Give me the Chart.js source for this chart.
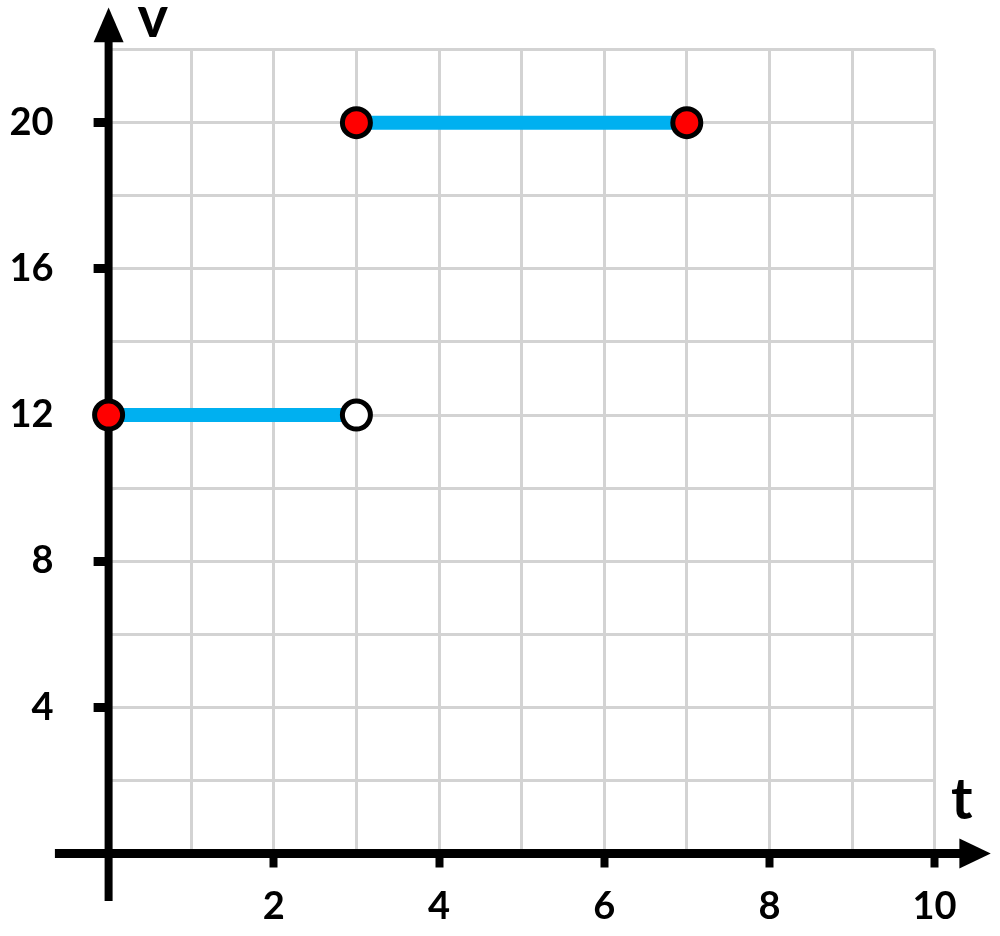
<!DOCTYPE html>
<html>
<head>
<meta charset="utf-8">
<script src="https://cdn.jsdelivr.net/npm/chart.js@4/dist/chart.umd.min.js"></script>
<style>
  html, body { margin: 0; padding: 0; background: #fff; }
  #wrap { width: 1000px; height: 936px; }
</style>
</head>
<body>
<div id="wrap"><canvas id="chart"></canvas></div>
<script>
// Piecewise speed graph: v against t
const segLowT = [0, 3]
const segLowV = [12, 12]
const segLowFill = ['#ff0000', '#ffffff']

const segHighT = [3, 7]
const segHighV = [20, 20]
const segHighFill = ['#ff0000', '#ff0000']

const xTickLabels = [2, 4, 6, 8, 10]
const yTickLabels = [4, 8, 12, 16, 20]

const FONT = 'Lato, "Open Sans", sans-serif'
const GRID = '#d3d3d3'
const LINE = '#00b0f0'

const toPoints = (xs, ys) => xs.map((x, i) => ({ x, y: ys[i] }))

// Axis lines with arrowheads, plus the v / t letters
const axesPlugin = {
  id: 'axes',
  beforeDatasetsDraw(chart) {
    const { ctx, scales: { x, y } } = chart
    const x0 = x.getPixelForValue(0)
    const y0 = y.getPixelForValue(0)
    ctx.save()
    ctx.strokeStyle = '#000'
    ctx.fillStyle = '#000'
    ctx.lineWidth = 8

    // vertical axis
    ctx.beginPath()
    ctx.moveTo(x0, y.getPixelForValue(-1.3))
    ctx.lineTo(x0, y.getPixelForValue(22.3))
    ctx.stroke()
    ctx.beginPath()
    ctx.moveTo(x0, y.getPixelForValue(23.15))
    ctx.lineTo(x0 - 15, y.getPixelForValue(22.2))
    ctx.lineTo(x0 + 15, y.getPixelForValue(22.2))
    ctx.closePath()
    ctx.fill()

    // horizontal axis
    ctx.lineWidth = 9
    ctx.beginPath()
    ctx.moveTo(x.getPixelForValue(-0.65), y0)
    ctx.lineTo(x.getPixelForValue(10.35), y0)
    ctx.stroke()
    ctx.beginPath()
    ctx.moveTo(x.getPixelForValue(10.68), y0)
    ctx.lineTo(x.getPixelForValue(10.3), y0 - 15)
    ctx.lineTo(x.getPixelForValue(10.3), y0 + 15)
    ctx.closePath()
    ctx.fill()

    ctx.font = 'bold 58px ' + FONT
    ctx.textAlign = 'left'
    ctx.textBaseline = 'alphabetic'
    ctx.fillText('v', x0 + 29, y.getPixelForValue(22.35))
    ctx.fillText('t', x.getPixelForValue(10.2), y.getPixelForValue(0.95))
    ctx.restore()
  }
}

const segment = (xs, ys, fills) => ({
  data: toPoints(xs, ys),
  showLine: true,
  clip: false,
  borderColor: LINE,
  borderWidth: 14,
  pointRadius: 14,
  pointHoverRadius: 14,
  pointBorderWidth: 5,
  pointBorderColor: '#000',
  pointBackgroundColor: fills
})

new Chart(document.getElementById('chart'), {
  type: 'scatter',
  data: {
    datasets: [
      segment(segLowT, segLowV, segLowFill),
      segment(segHighT, segHighV, segHighFill)
    ]
  },
  plugins: [axesPlugin],
  options: {
    responsive: true,
    maintainAspectRatio: false,
    animation: false,
    events: [],
    layout: { padding: { top: 49.6, right: 65.4, left: 0, bottom: 0 } },
    plugins: { legend: { display: false }, tooltip: { enabled: false } },
    scales: {
      x: {
        type: 'linear',
        min: 0,
        max: 10,
        afterFit(s) {
          s.height = 82.5
          s.paddingLeft = 0
          s.paddingRight = 0
        },
        border: { display: false },
        grid: {
          color: GRID,
          lineWidth: 3,
          tickLength: 14,
          tickWidth: 8,
          tickColor: c => xTickLabels.includes(c.tick.value) ? '#000' : 'rgba(0,0,0,0)'
        },
        ticks: {
          stepSize: 1,
          autoSkip: false,
          maxRotation: 0,
          padding: 16,
          color: '#000',
          font: { family: FONT, size: 38, weight: 'bold' },
          callback: v => xTickLabels.includes(v) ? String(v) : ''
        }
      },
      y: {
        type: 'linear',
        min: 0,
        max: 22,
        afterFit(s) {
          s.width = 108.6
          s.paddingTop = 0
          s.paddingBottom = 0
        },
        border: { display: false },
        grid: {
          color: GRID,
          lineWidth: 3,
          tickLength: 15,
          tickWidth: 9,
          tickColor: c => yTickLabels.includes(c.tick.value) ? '#000' : 'rgba(0,0,0,0)'
        },
        ticks: {
          stepSize: 2,
          autoSkip: false,
          padding: 40,
          color: '#000',
          font: { family: FONT, size: 38, weight: 'bold' },
          callback: v => yTickLabels.includes(v) ? String(v) : ''
        }
      }
    }
  }
})
</script>
</body>
</html>
